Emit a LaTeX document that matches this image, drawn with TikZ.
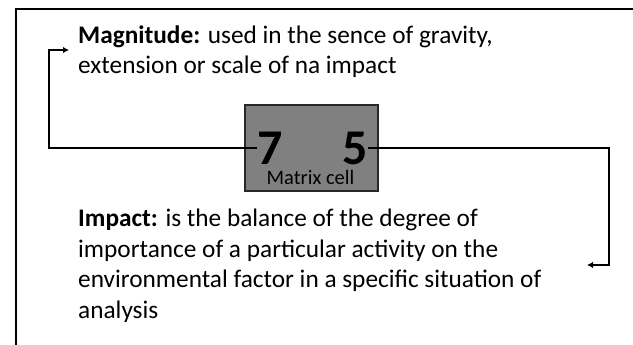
\documentclass[tikz,border=0pt]{standalone}
\usepackage{fontspec}
\setmainfont{Carlito}
\usetikzlibrary{arrows.meta,positioning}
\definecolor{CellGray}{RGB}{128,128,128}
\definecolor{CellEdge}{RGB}{40,40,40}

\begin{document}
\begin{tikzpicture}[x=1pt,y=-1pt,
  conn/.style={line width=2.6pt,-{Latex[length=6pt,width=6.5pt]}},
  desc/.style={anchor=base west,inner sep=0,align=left,font=\fontsize{25.3}{30.5}\selectfont},
  digit/.style={inner sep=0,font=\fontsize{50}{50}\selectfont\bfseries}]
\useasboundingbox (0,0) rectangle (633,345);
\draw[line width=2.6pt] (16,345) |- (633,9);
\node[draw=CellEdge,line width=1.4pt,fill=CellGray,minimum width=133,minimum height=86,inner sep=0] (cell) at (311.5,148){};
\node[digit,anchor=west] (seven) at (257,148){7};
\node[digit,anchor=east] (five) at (368,148){5};
\node[anchor=base,inner sep=0,font=\fontsize{20.5}{20.5}\selectfont] (celltxt) at (310.5,185){Matrix cell};
% base anchor sits on the last line
\node[desc] (mag) at (78,74){\textbf{Magnitude:} used in the sence of gravity,\\extension or scale of na impact};
\node[desc] (imp) at (78,318){\textbf{Impact:} is the balance of the degree of\\importance of a particular activity on the\\environmental factor in a specific situation of\\analysis};
\coordinate (lx) at (49,0);
\coordinate (magtip) at (69,50);
\coordinate (rx) at (609,0);
\coordinate (imptip) at (587,265);
\draw[conn] (seven.west) -- (seven.west -| lx) |- (magtip);
\draw[conn] (five.east) -- (five.east -| rx) |- (imptip);
\end{tikzpicture}
\end{document}
